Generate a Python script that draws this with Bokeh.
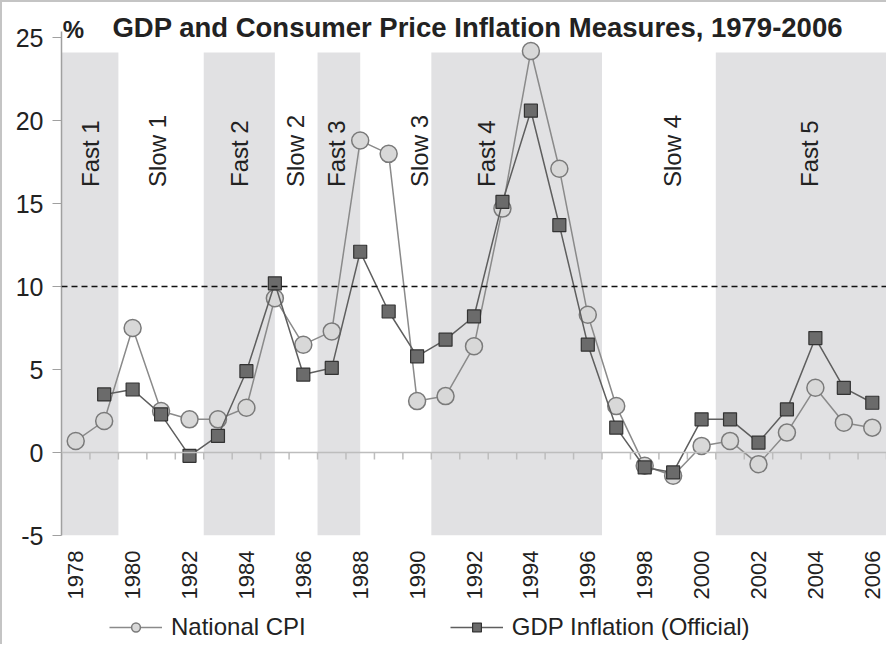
import math
from bokeh.plotting import figure
from bokeh.layouts import column
from bokeh.models import Span, Legend, LegendItem, Label, FixedTicker, Range1d
from bokeh.core.properties import value
from bokeh.embed import file_html
from bokeh.resources import INLINE

# ---- data ----
cpi_years = list(range(1978, 2007))
cpi = [0.7, 1.9, 7.5, 2.5, 2.0, 2.0, 2.7, 9.3, 6.5, 7.3, 18.8, 18.0, 3.1,
       3.4, 6.4, 14.7, 24.2, 17.1, 8.3, 2.8, -0.8, -1.4, 0.4, 0.7, -0.7,
       1.2, 3.9, 1.8, 1.5]
gdp_years = list(range(1979, 2007))
gdp = [3.5, 3.8, 2.3, -0.2, 1.0, 4.9, 10.2, 4.7, 5.1, 12.1, 8.5, 5.8,
       6.8, 8.2, 15.1, 20.6, 13.7, 6.5, 1.5, -0.9, -1.2, 2.0, 2.0, 0.6,
       2.6, 6.9, 3.9, 3.0]

fast_start = [1977.5, 1982.5, 1986.5, 1990.5, 2000.5]
fast_end = [1979.5, 1985.0, 1988.0, 1996.5, 2006.5]
shade_bottom = -5
shade_top = 24.1

phase_names = ["Fast 1", "Slow 1", "Fast 2", "Slow 2", "Fast 3",
               "Slow 3", "Fast 4", "Slow 4", "Fast 5"]
phase_x = [1978.53, 1980.88, 1983.74, 1985.71, 1987.16,
           1990.09, 1992.43, 1998.98, 2003.81]
phase_y = [16.0] * len(phase_names)

threshold = 10
y_ticks = [-5, 0, 5, 10, 15, 20, 25]
y_tick_labels = ["-5", "0", "5", "10", "15", "20", "25"]
x_label_years = list(range(1978, 2007, 2))
cat_bounds = [y - 0.5 for y in cpi_years] + [cpi_years[-1] + 0.5]

TITLE = "GDP and Consumer Price Inflation Measures, 1979-2006"
UNIT = "%"
SERIES = ["National CPI", "GDP Inflation (Official)"]

FONT = "Liberation Sans"
TXT = "#222222"
CPI_LINE, CPI_FILL, CPI_EDGE = "#8a8a8a", "#d8d8d8", "#7a7a7a"
GDP_LINE, GDP_FILL, GDP_EDGE = "#5e5e5e", "#6b6b6b", "#333333"

X0, X1 = 1977.5, 2006.5
p = figure(width=884, height=605,
           x_range=Range1d(X0, X1), y_range=Range1d(-5, 27.0),
           output_backend="svg", toolbar_location=None,
           min_border_left=59, min_border_right=0,
           min_border_top=2, min_border_bottom=72)
p.title.text = ""
p.outline_line_color = None
p.xgrid.visible = False
p.ygrid.visible = False
p.background_fill_color = "white"
p.border_fill_color = "white"

# shaded phases
p.quad(left=fast_start, right=fast_end, bottom=shade_bottom, top=shade_top,
       fill_color="#e1e1e3", line_color=None)

# phase labels
p.text(x=phase_x, y=phase_y, text=phase_names, angle=math.pi / 2,
       text_align="left", text_baseline="middle",
       text_font=value(FONT), text_font_size=value("24px"), text_color=TXT)

# zero axis line with category ticks
p.add_layout(Span(location=0, dimension="width", line_color="#bdbdbd",
                  line_width=1.5))
p.segment(x0=cat_bounds, x1=cat_bounds, y0=[0] * len(cat_bounds),
          y1=[-0.42] * len(cat_bounds), line_color="#bdbdbd", line_width=1.5)

# threshold line
p.add_layout(Span(location=threshold, dimension="width", line_color="#111111",
                  line_width=1.5, line_dash="6 4"))

# series
cpi_line = p.line(cpi_years, cpi, line_color=CPI_LINE, line_width=1.5)
cpi_pts = p.scatter(cpi_years, cpi, marker="circle", size=17,
                    fill_color=CPI_FILL, line_color=CPI_EDGE, line_width=1.5)
gdp_line = p.line(gdp_years, gdp, line_color=GDP_LINE, line_width=1.5)
gdp_pts = p.scatter(gdp_years, gdp, marker="square", size=13,
                    fill_color=GDP_FILL, line_color=GDP_EDGE, line_width=1.2)

# title and unit inside the (extended) frame
p.add_layout(Label(x=1979.29, y=25.62, text=TITLE, text_font=FONT,
                   text_font_size="27.5px", text_font_style="bold",
                   text_color=TXT, text_align="left",
                   text_baseline="middle"))
p.add_layout(Label(x=1977.54, y=25.5, text=UNIT, text_font=FONT,
                   text_font_size="24px", text_font_style="bold",
                   text_color=TXT, text_align="left",
                   text_baseline="middle"))

# y axis
yax = p.yaxis[0]
yax.ticker = FixedTicker(ticks=y_ticks)
yax.bounds = (-5, 25.4)
yax.major_label_overrides = {t: s for t, s in zip(y_ticks, y_tick_labels)}
yax.major_label_text_font = FONT
yax.major_label_text_font_size = "25px"
yax.major_label_text_color = TXT
yax.axis_line_color = "#a0a0a0"
yax.axis_line_width = 1.5
yax.major_tick_line_color = "#a0a0a0"
yax.major_tick_out = 9
yax.major_tick_in = 0
yax.minor_tick_line_color = None
yax.major_label_standoff = 9

# x axis (labels only)
xax = p.xaxis[0]
xax.ticker = FixedTicker(ticks=x_label_years)
xax.major_label_orientation = math.pi / 2
xax.major_label_text_font = FONT
xax.major_label_text_font_size = "22px"
xax.major_label_text_color = TXT
xax.axis_line_color = None
xax.major_tick_line_color = None
xax.minor_tick_line_color = None
xax.major_tick_out = 0
xax.major_tick_in = 0
xax.major_label_standoff = 15

# ---- legend strip below the chart ----
lg = figure(width=884, height=37, x_range=Range1d(0, 1), y_range=Range1d(0, 1),
            output_backend="svg", toolbar_location=None,
            x_axis_location=None, y_axis_location=None,
            min_border_left=0, min_border_right=0,
            min_border_top=0, min_border_bottom=0)
lg.xgrid.visible = False
lg.ygrid.visible = False
lg.outline_line_color = None
lg.title.text = ""
# legend-only renderers, placed outside the strip's visible range
l1 = lg.line([2, 3], [2, 2], line_color=CPI_LINE, line_width=1.5)
m1 = lg.scatter([2], [2], marker="circle", size=15,
                fill_color=CPI_FILL, line_color=CPI_EDGE, line_width=1.5)
l2 = lg.line([2, 3], [2, 2], line_color=GDP_LINE, line_width=1.5)
m2 = lg.scatter([2], [2], marker="square", size=12,
                fill_color=GDP_FILL, line_color=GDP_EDGE, line_width=1.2)
legend = Legend(items=[
    LegendItem(label=SERIES[0], renderers=[l1, m1]),
    LegendItem(label=SERIES[1], renderers=[l2, m2]),
], orientation="horizontal", location=(48, 3), spacing=144,
    glyph_width=53, glyph_height=22, label_standoff=9,
    label_text_font=FONT, label_text_font_size="24px", label_text_color=TXT,
    padding=3, margin=0, border_line_color=None, background_fill_alpha=0)
lg.add_layout(legend)

layout = column(p, lg, spacing=0,
                styles={"border-left": "2px solid #c4c4c4",
                        "border-top": "2px solid #c4c4c4"})
open("out.html", "w").write(file_html(layout, INLINE))
